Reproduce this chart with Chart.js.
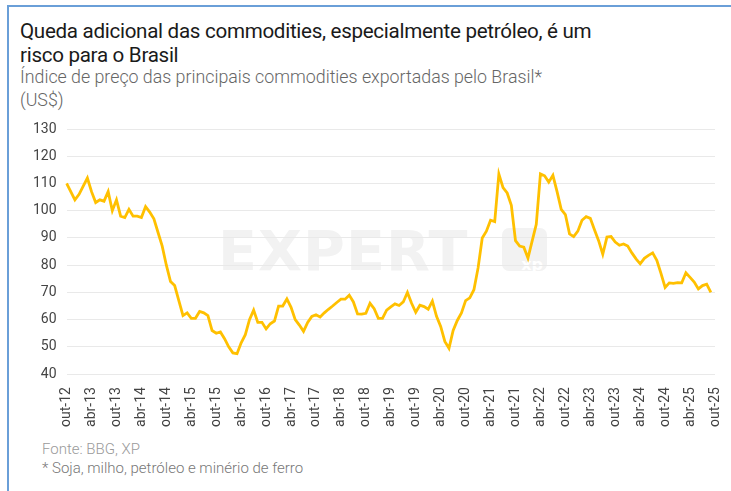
<!DOCTYPE html>
<html>
<head>
<meta charset="utf-8">
<script src="https://cdn.jsdelivr.net/npm/chart.js@4/dist/chart.umd.min.js"></script>
<style>
  html, body { margin:0; padding:0; background:#fff; }
  body { width:731px; height:491px; position:relative; overflow:hidden; font-family: Roboto, "Noto Sans", sans-serif; }
  .frame-top { position:absolute; left:8px; top:5px; width:723px; height:2px; background:#6a9fd8; }
  .frame-left { position:absolute; left:7px; top:5px; width:2px; height:486px; background:#6a9fd8; }
  .title { position:absolute; left:20px; top:19px; font-size:20.6px; line-height:24px; color:#1a1a1a; letter-spacing:-0.3px; }
  .sub { position:absolute; left:20px; top:65px; font-size:17.8px; line-height:23px; color:#666; font-weight:300; letter-spacing:0px; }
  .foot { position:absolute; left:42px; top:440px; font-size:15px; line-height:19px; color:#9a9a9a; font-weight:300; }
  .foot2 { color:#777; }
  .wm { position:absolute; left:218px; top:218px; font-family:"DejaVu Sans", sans-serif; font-weight:bold; font-size:56px; color:#f2f2f2; letter-spacing:1px; transform-origin:0 0; transform:scaleX(1.02); }
  .wmbox { position:absolute; left:502px; top:228px; width:45px; height:43px; border-radius:7px; background:#f2f2f2; }
  .wmbox span { position:absolute; right:4px; bottom:-3px; font-family:"DejaVu Sans", sans-serif; font-weight:bold; font-size:16px; color:#fff; }
  #wrap { position:absolute; left:0; top:0; width:731px; height:491px; }
</style>
</head>
<body>
<div class="frame-top"></div>
<div class="frame-left"></div>
<div class="wm">EXPERT</div>
<div class="wmbox"><span>xp</span></div>
<div class="title">Queda adicional das commodities, especialmente petróleo, é um<br>risco para o Brasil</div>
<div class="sub">Índice de preço das principais commodities exportadas pelo Brasil*<br>(US$)</div>
<div class="foot">Fonte: BBG, XP<br><span class="foot2">* Soja, milho, petróleo e minério de ferro</span></div>
<div id="wrap"><canvas id="c"></canvas></div>
<script>
// Month abbreviations (Portuguese) and time span of the series
const monthNames = ["jan","fev","mar","abr","mai","jun","jul","ago","set","out","nov","dez"];
const startYear = 2012, startMonth = 9; // out-12
const monthCount = 157;                 // out-12 .. out-25

// Commodity price index (US$), monthly, starting out-12
const indexValues = [
  110, 107, 104, 106, 109, 112, 107, 103, 104, 103.5,
  107, 100, 104, 98, 97.5, 100.5, 98, 98, 97.5, 101.5,
  99.5, 97, 92, 87, 80, 74, 72.5, 67, 61.5, 62.5,
  60.5, 60.5, 63, 62.5, 61.5, 56, 55, 55.5, 53, 50,
  47.8, 47.5, 51.5, 54.5, 60, 63.5, 59, 59, 56.6, 58.5,
  59.5, 65, 65, 67.6, 64.5, 60, 58, 55.7, 59, 61.2,
  61.8, 61, 62.5, 63.8, 65, 66.3, 67.5, 67.5, 69, 66.5,
  62.1, 62, 62.3, 66, 64, 60.5, 60.5, 63.5, 64.7, 65.8,
  65.2, 66.5, 70, 66, 62.7, 65.3, 64.8, 63.8, 66.8, 61.2,
  57.5, 52, 49.5, 56, 59.7, 62.5, 67, 68, 71, 79,
  90, 92.5, 96.5, 96, 113.5, 108.5, 106.5, 102, 89, 87,
  86.6, 82.6, 88.8, 95, 113.5, 112.8, 110.5, 113, 107, 100.5,
  98.6, 91.5, 90.5, 92.5, 96.5, 97.8, 97.2, 93, 89, 84,
  90.3, 90.5, 88.5, 87.3, 87.8, 87, 84.5, 82.3, 80.5, 82.5,
  83.6, 84.5, 81.8, 77, 71.8, 73.5, 73.3, 73.6, 73.5, 77.2,
  75.5, 73.8, 71.3, 72.5, 73, 70
];

// Y-axis ticks
const yTicks = [40, 50, 60, 70, 80, 90, 100, 110, 120, 130];

const monthLabels = [];
for (let k = 0; k < monthCount; k++) {
  const m = (startMonth + k) % 12;
  const y = startYear + Math.floor((startMonth + k) / 12);
  monthLabels.push(monthNames[m] + "-" + String(y).slice(2));
}

new Chart(document.getElementById("c"), {
  type: "line",
  data: {
    labels: monthLabels,
    datasets: [{
      data: indexValues,
      borderColor: "#FFC000",
      borderWidth: 2.8,
      pointRadius: 0,
      tension: 0,
      fill: false
    }]
  },
  options: {
    responsive: true,
    maintainAspectRatio: false,
    animation: false,
    layout: { padding: { top: 129, left: 23, right: 16, bottom: 59 } },
    plugins: { legend: { display: false }, tooltip: { enabled: false } },
    scales: {
      x: {
        type: "category",
        offset: false,
        grid: { display: false },
        border: { display: false },
        afterFit: (scale) => { scale.paddingRight = 0; },
        ticks: {
          autoSkip: false,
          minRotation: 90,
          maxRotation: 90,
          padding: 5,
          color: "#444",
          font: { family: "Roboto", size: 14 },
          callback: function (val, idx) { return idx % 6 === 0 ? this.getLabelForValue(val) : null; }
        }
      },
      y: {
        min: 40,
        max: 130,
        afterBuildTicks: (axis) => { axis.ticks = yTicks.map(v => ({ value: v })); },
        grid: { color: "#e9e9e9", lineWidth: 1, drawTicks: false },
        border: { display: false },
        ticks: {
          padding: 10,
          color: "#444",
          font: { family: "Roboto", size: 14 }
        }
      }
    }
  }
});
</script>
</body>
</html>
